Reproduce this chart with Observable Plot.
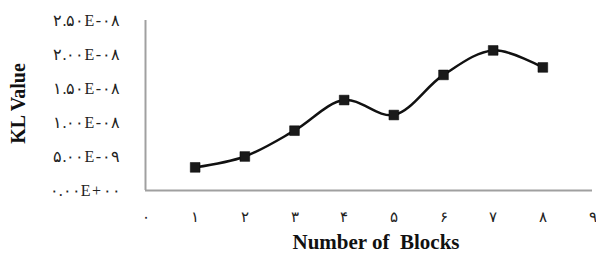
<!DOCTYPE html>
<html>
<head>
<meta charset="utf-8">
<script src="https://cdn.jsdelivr.net/npm/d3@7"></script>
<script src="https://cdn.jsdelivr.net/npm/@observablehq/plot@0.6"></script>
<style>
  html, body { margin: 0; padding: 0; background: #fff; }
  g[aria-label="y-axis tick label"] text { letter-spacing: 1.5px; }
  g[aria-label="x-axis tick label"] text { letter-spacing: 0px; }
</style>
</head>
<body>
<div id="chart"></div>
<script>
const blocks = [1, 2, 3, 4, 5, 6, 7, 8];
const klValues = [3.4e-9, 5.0e-9, 8.8e-9, 13.3e-9, 11.1e-9, 17.0e-9, 20.6e-9, 18.1e-9];
const xTicks = [0, 1, 2, 3, 4, 5, 6, 7, 8, 9];
const xTickLabels = ["۰", "۱", "۲", "۳", "۴", "۵", "۶", "۷", "۸", "۹"];
const yTicks = [0, 5e-9, 1e-8, 1.5e-8, 2e-8, 2.5e-8];
const yTickLabels = ["۰.۰۰E+۰۰", "۵.۰۰E-۰۹", "۱.۰۰E-۰۸", "۱.۵۰E-۰۸", "۲.۰۰E-۰۸", "۲.۵۰E-۰۸"];
const xTitle = "Number of  Blocks";
const yTitle = "KL Value";

const data = blocks.map((b, i) => ({block: b, kl: klValues[i]}));
const serif = "'Liberation Serif', 'Times New Roman', 'DejaVu Serif', serif";

const chart = Plot.plot({
  width: 596,
  height: 257,
  marginLeft: 145,
  marginRight: 4,
  marginTop: 20,
  marginBottom: 67,
  style: {fontFamily: serif, fontSize: "13px", color: "#222", background: "#fff"},
  x: {domain: [0, 9], label: null},
  y: {domain: [0, 2.5e-8], label: null},
  marks: [
    Plot.axisX({ticks: xTicks, tickFormat: (d) => xTickLabels[xTicks.indexOf(d)], tickSize: 0, tickPadding: 21, label: null, fontSize: 15}),
    Plot.axisY({ticks: yTicks, tickFormat: (d) => yTickLabels[yTicks.indexOf(d)], tickSize: 0, tickPadding: 25, label: null, fontSize: 16}),
    Plot.ruleX([0], {stroke: "#a0a0a0", strokeWidth: 2}),
    Plot.ruleY([0], {stroke: "#a0a0a0", strokeWidth: 2}),
    Plot.line(data, {x: "block", y: "kl", curve: "catmull-rom", stroke: "#111", strokeWidth: 2.5}),
    Plot.dot(data, {x: "block", y: "kl", symbol: "square", r: 5.5, fill: "#1a1a1a", stroke: "#000", strokeWidth: 0.5}),
    Plot.text([yTitle], {frameAnchor: "left", dx: -127, dy: -2, rotate: -90, textAnchor: "middle", fontWeight: "bold", fontSize: 20, fill: "#111"}),
    Plot.text([xTitle], {frameAnchor: "bottom", dy: 58, dx: 7, textAnchor: "middle", fontWeight: "bold", fontSize: 21, fill: "#111"})
  ]
});
document.getElementById("chart").appendChild(chart);
</script>
</body>
</html>
